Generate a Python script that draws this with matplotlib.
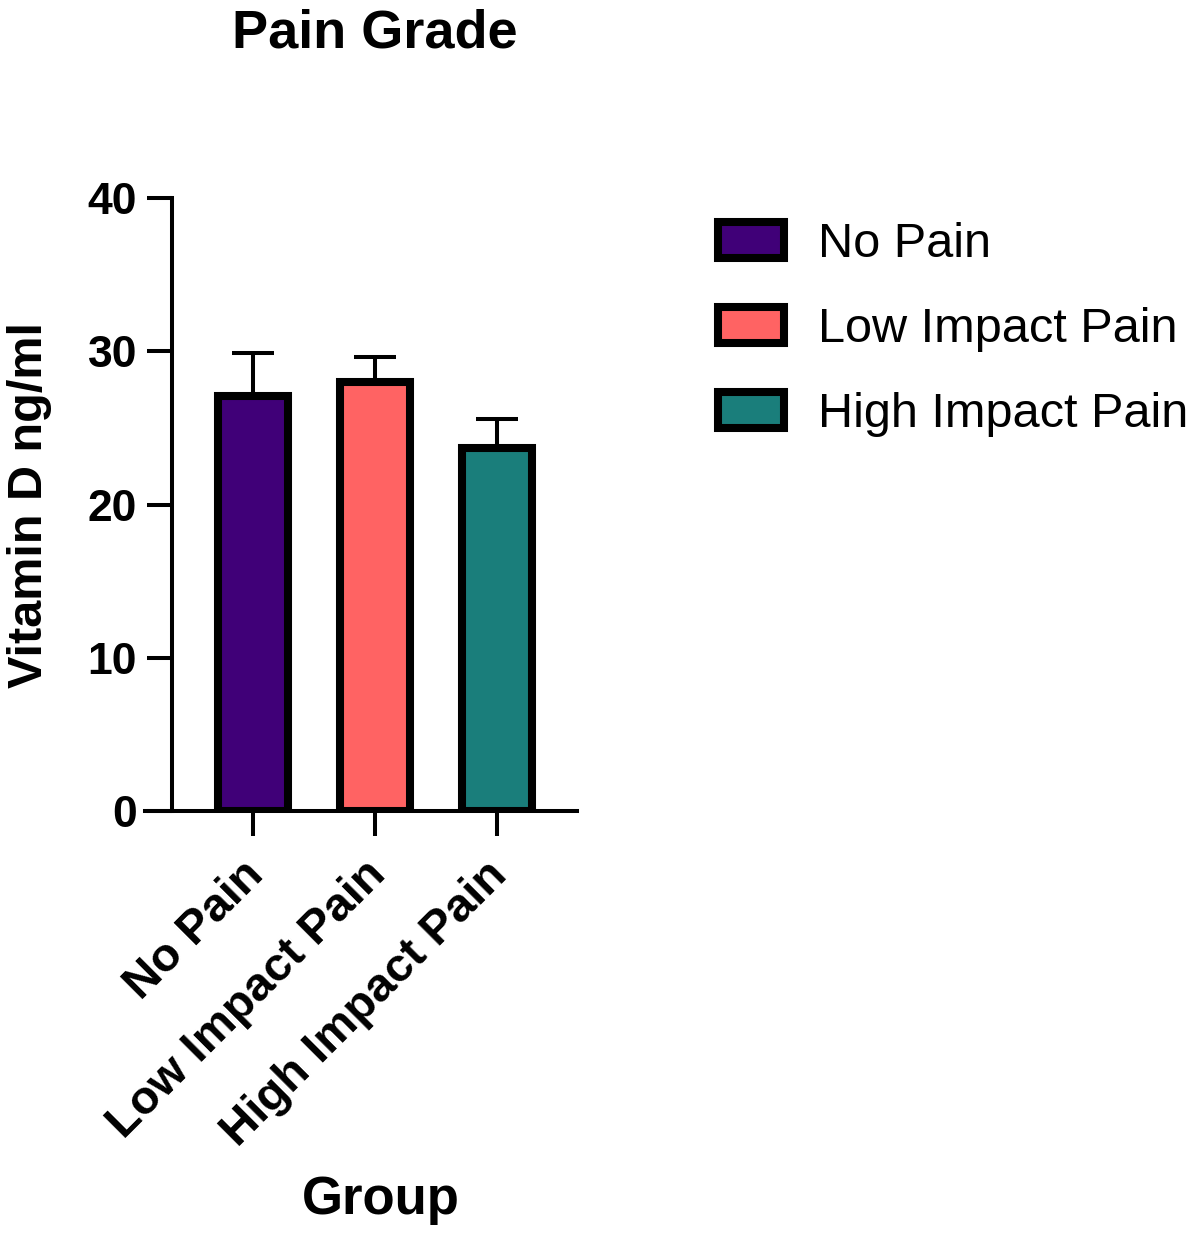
import matplotlib
matplotlib.use("Agg")
import matplotlib.pyplot as plt
import matplotlib.transforms as mtransforms
from matplotlib.patches import Patch

plt.rcParams['font.family'] = ['Liberation Sans', 'DejaVu Sans']

groups = ['No Pain', 'Low Impact Pain', 'High Impact Pain']
means = [27.1, 28.0, 23.7]
sem = [2.8, 1.6, 1.9]
colors = ['#400078', '#FF6363', '#1A7E7B']
yticks = [0, 10, 20, 30, 40]

fig = plt.figure(figsize=(12, 12.38), dpi=100)
ax = fig.add_axes([145 / 1200, 1 - 811 / 1238, 432 / 1200, 613 / 1238])

# spine offset first: set_position resets the y ticks
ax.spines['top'].set_visible(False)
ax.spines['right'].set_visible(False)
ax.spines['left'].set_position(('data', -0.664))
for s in ['left', 'bottom']:
    ax.spines[s].set_linewidth(2.9)

x = list(range(len(groups)))
ax.errorbar(x, means, yerr=[[0] * len(sem), sem], fmt='none', ecolor='black',
            elinewidth=2.9, capsize=15, capthick=2.9, zorder=1)
ax.bar(x, means, width=0.58, color=colors, edgecolor='black', linewidth=5.8, zorder=2)

ax.set_xlim(-0.885, 2.656)
ax.set_ylim(0, 40)
ax.set_yticks(yticks)
ax.set_yticklabels([str(v) for v in yticks], fontsize=32, fontweight='bold')
ax.set_xticks(x)
ax.set_xticklabels(groups, rotation=45, ha='right', rotation_mode='anchor',
                   fontsize=34, fontweight='bold')

ax.tick_params(axis='both', length=18, width=2.9, direction='out')
ax.tick_params(axis='y', pad=7)
ax.tick_params(axis='x', pad=12)

# nudge the slanted labels a little to the left
shift = mtransforms.ScaledTranslation(-0.12, 0, fig.dpi_scale_trans)
for lab in ax.get_xticklabels():
    lab.set_transform(lab.get_transform() + shift)

fig.text(30 / 1200, 1 - 505 / 1238, 'Vitamin D ng/ml', fontsize=35, fontweight='bold',
         rotation=90, ha='center', va='center')
fig.text(375 / 1200, 1 - 33 / 1238, 'Pain Grade', fontsize=39, fontweight='bold',
         ha='center', va='center')
fig.text(381 / 1200, 1 - 1200 / 1238, 'Group', fontsize=38, fontweight='bold',
         ha='center', va='center')

handles = [Patch(facecolor=c, edgecolor='black', linewidth=5.8) for c in colors]
fig.legend(handles, groups, loc='upper left', bbox_to_anchor=(718 / 1200, 1 - 222 / 1238),
           frameon=False, fontsize=35, handlelength=1.35, handleheight=0.75,
           handletextpad=0.7, labelspacing=0.82, borderpad=0, borderaxespad=0)

fig.savefig('out.png', dpi=100)
